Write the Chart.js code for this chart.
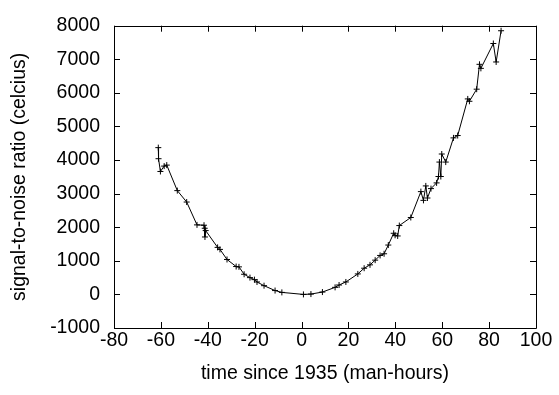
<!DOCTYPE html>
<html lang="en">
<head>
  <meta charset="UTF-8" />
  <title>signal-to-noise ratio</title>
  <script src="https://cdn.jsdelivr.net/npm/chart.js"></script>
  <style>
    html, body { margin: 0; padding: 0; background: #fff; }
    #wrap { width: 559px; height: 395px; }
  </style>
</head>
<body>
  <div id="wrap"><canvas id="snr"></canvas></div>

  <script>
    // time since 1935 (man-hours)
    const hours = [-61.1, -61.0, -60.2, -58.6, -57.5, -53.0, -49.0, -44.6, -41.6, -41.3, -41.2, -40.9,
      -35.8, -34.8, -31.8, -27.9, -26.7, -24.5, -22.0, -20.1, -19.0, -16.0, -11.3, -8.4,
      0.8, 4.0, 8.9, 14.3, 16.0, 18.9, 24.0, 26.7, 29.2, 31.4, 33.5, 35.2, 37.0,
      39.3, 39.9, 41.0, 41.7, 46.6, 50.9, 52.0, 53.0, 53.7, 55.2, 57.6, 58.4, 58.8,
      59.4, 59.8, 61.5, 64.8, 66.6, 70.9, 71.6, 74.7, 75.9, 76.5, 81.8, 83.0, 85.1];
    // signal-to-noise ratio (celcius)
    const snr = [4370, 4040, 3660, 3820, 3850, 3090, 2750, 2070, 2060, 1970, 1710, 1900,
      1400, 1340, 1040, 830, 820, 600, 500, 440, 370, 260, 115, 60,
      0, 10, 70, 210, 280, 370, 610, 780, 880, 1020, 1160, 1210, 1470,
      1820, 1760, 1740, 2050, 2290, 3060, 2800, 3230, 2870, 3150, 3320, 3510, 3940,
      3510, 4180, 3940, 4660, 4730, 5820, 5750, 6110, 6850, 6730, 7470, 6920, 7850];

    const xTicks = [-80, -60, -40, -20, 0, 20, 40, 60, 80, 100];
    const yTicks = [-1000, 0, 1000, 2000, 3000, 4000, 5000, 6000, 7000, 8000];

    const points = hours.map((h, i) => ({ x: h, y: snr[i] }));

    // gnuplot style frame with inward ticks on all four sides
    const frame = {
      id: 'frame',
      afterDraw(chart) {
        const { ctx, chartArea: a, scales } = chart;
        const len = 6;
        ctx.save();
        ctx.strokeStyle = '#000';
        ctx.lineWidth = 1;
        ctx.beginPath();
        ctx.rect(Math.round(a.left) + 0.5, Math.round(a.top) + 0.5,
          Math.round(a.right - a.left), Math.round(a.bottom - a.top));
        xTicks.forEach(v => {
          const px = Math.round(scales.x.getPixelForValue(v)) + 0.5;
          ctx.moveTo(px, a.bottom); ctx.lineTo(px, a.bottom - len);
          ctx.moveTo(px, a.top); ctx.lineTo(px, a.top + len);
        });
        yTicks.forEach(v => {
          const py = Math.round(scales.y.getPixelForValue(v)) + 0.5;
          ctx.moveTo(a.left, py); ctx.lineTo(a.left + len, py);
          ctx.moveTo(a.right, py); ctx.lineTo(a.right - len, py);
        });
        ctx.stroke();
        ctx.restore();
      }
    };

    const font = { family: 'Liberation Sans, Arial, sans-serif', size: 19.5 };
    const plain = v => String(v);

    new Chart(document.getElementById('snr'), {
      type: 'scatter',
      data: {
        datasets: [{
          data: points,
          showLine: true,
          borderColor: '#000',
          borderWidth: 1,
          tension: 0,
          pointStyle: 'cross',
          pointRadius: 3,
          pointBorderColor: '#000',
          pointBorderWidth: 1
        }]
      },
      options: {
        responsive: true,
        maintainAspectRatio: false,
        animation: false,
        layout: { padding: { top: 13, right: 23, left: 4, bottom: 6 } },
        plugins: { legend: { display: false }, tooltip: { enabled: false } },
        scales: {
          x: {
            type: 'linear',
            min: -80, max: 100,
            afterBuildTicks: s => { s.ticks = xTicks.map(v => ({ value: v })); },
            afterFit: s => { s.height = 61; },
            grid: { display: false, drawTicks: false },
            border: { display: false },
            ticks: { color: '#000', font, padding: 1, maxRotation: 0, callback: plain },
            title: { display: true, text: 'time since 1935 (man-hours)', color: '#000', font, padding: { top: 0 } }
          },
          y: {
            type: 'linear',
            min: -1000, max: 8000,
            afterBuildTicks: s => { s.ticks = yTicks.map(v => ({ value: v })); },
            afterFit: s => { s.width = 110; },
            grid: { display: false, drawTicks: false },
            border: { display: false },
            ticks: { color: '#000', font, padding: 14, callback: plain },
            title: { display: true, text: 'signal-to-noise ratio (celcius)', color: '#000', font, padding: { bottom: 4 } }
          }
        }
      },
      plugins: [frame]
    });
  </script>
</body>
</html>
